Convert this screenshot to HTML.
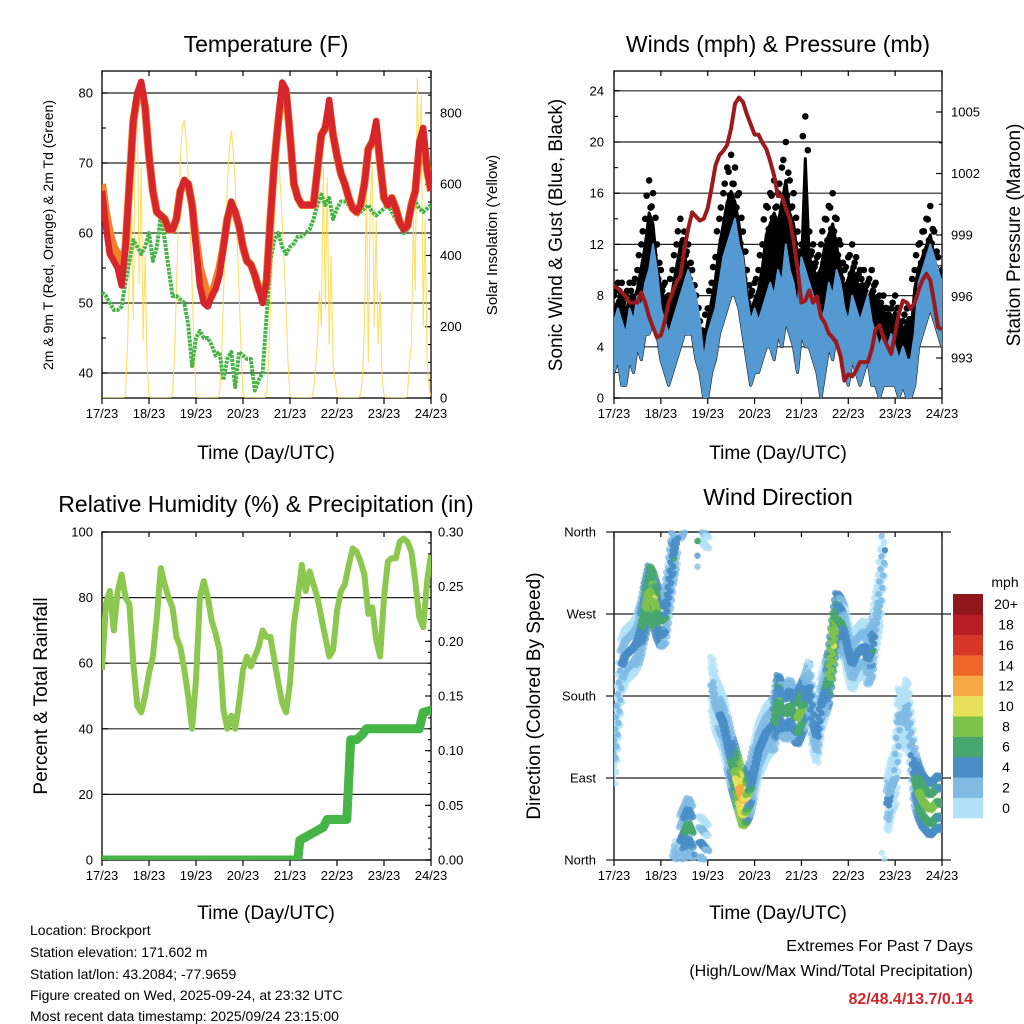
<!DOCTYPE html>
<html><head><meta charset="utf-8"><title>Weather station panels</title>
<style>
html,body{margin:0;padding:0;background:#fff;}
svg{display:block;font-family:"Liberation Sans",Arial,sans-serif;}
</style></head>
<body>
<svg id="fig" width="1024" height="1024" viewBox="0 0 1024 1024" xmlns="http://www.w3.org/2000/svg">
<defs>
<clipPath id="c1"><rect x="102" y="71" width="329" height="327"/></clipPath>
<clipPath id="c2"><rect x="614" y="71" width="328" height="327"/></clipPath>
<clipPath id="c3"><rect x="102" y="532" width="329" height="328"/></clipPath>
<clipPath id="c4"><rect x="614" y="528" width="328" height="336"/></clipPath>
</defs>
<rect x="0" y="0" width="1024" height="1024" fill="#fff"/>

<text x="266" y="52" font-size="23" text-anchor="middle">Temperature (F)</text>
<text x="778" y="52" font-size="23" text-anchor="middle">Winds (mph) &amp; Pressure (mb)</text>
<text x="266" y="512" font-size="23" text-anchor="middle">Relative Humidity (%) &amp; Precipitation (in)</text>
<text x="778" y="505" font-size="23" text-anchor="middle">Wind Direction</text>

<text x="266" y="459" font-size="19" text-anchor="middle">Time (Day/UTC)</text>
<text x="778" y="459" font-size="19" text-anchor="middle">Time (Day/UTC)</text>
<text x="266" y="919" font-size="19" text-anchor="middle">Time (Day/UTC)</text>
<text x="778" y="919" font-size="19" text-anchor="middle">Time (Day/UTC)</text>

<text transform="translate(53,235) rotate(-90)" font-size="14" text-anchor="middle">2m &amp; 9m T (Red, Orange) &amp; 2m Td (Green)</text>
<text transform="translate(497,235) rotate(-90)" font-size="15" text-anchor="middle">Solar Insolation (Yellow)</text>
<text transform="translate(562,235) rotate(-90)" font-size="19" text-anchor="middle">Sonic Wind &amp; Gust (Blue, Black)</text>
<text transform="translate(1020,235) rotate(-90)" font-size="19" text-anchor="middle">Station Pressure (Maroon)</text>
<text transform="translate(47,696) rotate(-90)" font-size="19" text-anchor="middle">Percent &amp; Total Rainfall</text>
<text transform="translate(540,696) rotate(-90)" font-size="19" text-anchor="middle">Direction (Colored By Speed)</text>

<g font-size="14">
<text x="30" y="935">Location: Brockport</text>
<text x="30" y="957">Station elevation: 171.602 m</text>
<text x="30" y="979">Station lat/lon: 43.2084; -77.9659</text>
<text x="30" y="1000">Figure created on Wed, 2025-09-24, at 23:32 UTC</text>
<text x="30" y="1021">Most recent data timestamp: 2025/09/24 23:15:00</text>
</g>
<text x="973" y="951" font-size="16" text-anchor="end">Extremes For Past 7 Days</text>
<text x="973" y="976" font-size="16" text-anchor="end">(High/Low/Max Wind/Total Precipitation)</text>
<text x="973" y="1004" font-size="16" font-weight="bold" fill="#d0262b" text-anchor="end">82/48.4/13.7/0.14</text>

<g id="marks"></g>
</svg>

<script>
const dayLabels = ["17/23","18/23","19/23","20/23","21/23","22/23","23/23","24/23"];
const tempRed = [66,61,57,56,55,52.5,58,67, 76,80,81.6,78,71,66,63,62.5, 62,60.5,60.5,62,66,67.6,67,64, 58,52.5,50,49.5,51,52,54,58, 62,64.5,63,61,58,56,55.5,54, 52,50,53,62,70,76,81.5,80.5, 74,67,65,64,64,64,64,69, 74,75,79,74,71,68.5,67,65, 63.5,63,64,67,72,73,76,70, 65,64,65,63.5,61.5,60.5,61,64, 66,73,75,69,66];
const tempOrange = [67,63,60,58,57,55,58,67, 76,79.5,81,78,71,66,63,62.5, 62,60.5,60.5,62,66,67,67,64, 59,55,53,51,51,53,55,58, 62,64,63,61,58,56,55.5,54, 52,51,53,62,70,76,80.5,80, 74,67,65,64,64,64,64,69, 74,75,78,74,71,68.5,67,65, 63.5,63,64,67,72,73,75,70, 65,64,65,63.5,61.5,61,61,64, 66,72,74,69,66];
const dewPoint = [51.5,51,50,49,49,49.5,53,56, 59,58,57,58,60,56,58,62.5, 59,55,51,51,50.5,50,47,41, 45,46,45,45,44,42.5,43,39, 42,43,38,43,42.5,42,42,37.5, 39,40,48,56,59,60,58,57, 58,58.5,59.5,59.5,60,60.5,62,64, 65.5,64,65,62,63.5,64.5,64.5,64, 63.5,62.5,63,63.5,64,63,62.5,63, 63.5,64,63,62,61,60,60.5,63, 64.5,63.5,63,63.5,64];
const solar = [0,0,0,0,0,0,0,0,0,0,0,0,
 10,150,350,520,220,750,810,320,650,160,400,100,10, 0,0,0,0,0,0,0,0,0,0,0,
 10,120,300,500,660,760,780,720,620,480,320,150,10, 0,0,0,0,0,0,0,0,0,0,0,
 10,100,280,450,600,700,750,700,600,450,300,140,10, 0,0,0,0,0,0,0,0,0,0,0,
 10,100,250,400,500,650,700,600,500,380,250,100,10, 0,0,0,0,0,0,0,0,0,0,0,
 20,80,150,300,200,650,250,620,150,400,100,50,10, 0,0,0,0,0,0,0,0,0,0,0,
 10,60,200,600,100,550,650,200,500,150,300,60,10, 0,0,0,0,0,0,0,0,0,0,0,
 10,100,150,500,300,900,600,850,200,500,100,30,5];
const windHi = [6,7,6,5,7,6,8,7, 9,10,12,10,7,6,5,6, 7,8,9,10,9,8,6,3, 5,6,7,9,11,12,13,14, 12,11,8,6,7,6,7,8, 9,8,10,9,12,10,9,7, 11,10,9,8,7,6,7,9, 8,10,9,7,6,8,7,6, 7,8,6,5,4,5,4,5, 4,3,4,3,3,5,9,10, 11,12,11,10,9];
const windLo = [2,3,1,1,3,2,4,3, 5,5,6,5,3,2,1,2, 3,4,5,5,5,3,2,0, 0,2,3,5,6,7,8,8, 7,5,3,1,2,2,3,4, 4,3,5,4,6,5,4,2, 5,4,4,3,2,0,2,4, 3,5,4,2,1,3,2,1, 2,3,1,1,0,1,1,1, 1,0,1,0,0,1,4,5, 6,7,6,5,4];
const gustHi = [8,9,9,8,9,9,10,12, 14,17,16,12,10,9,8,10, 12,14,13,12,10,8,6,5, 7,9,11,14,16,18,19,18, 16,13,10,8,9,10,12,15, 16,17,16,18,20,17,16,13, 12,22,13,12,11,12,14,15, 16,14,12,10,11,12,11,10, 10,9,10,9,8,8,7,7, 8,6,6,7,6,10,12,13, 14,15,13,11,10];
const pressure = [996.5,996.4,996.2,996.0,995.7,995.7,995.7,996.2, 995.7,995.0,994.5,994.0,994.1,994.8,995.7,996.2, 996.7,997.0,998.3,999.3,1000.1,999.9,999.7,999.8, 1000.3,1001.3,1002.4,1002.9,1003.1,1003.4,1004.2,1005.4, 1005.7,1005.5,1004.9,1004.4,1003.9,1003.9,1003.5,1003.2, 1002.6,1001.9,1000.9,1000.9,1000.3,999.8,998.7,997.4, 995.7,995.8,996.3,995.7,996.0,995.0,994.7,994.2, 994.0,993.7,993.1,991.9,992.2,992.1,992.4,992.8, 992.8,992.8,993.4,994.4,994.6,994.0,993.6,993.2, 994.2,995.2,995.8,995.7,995.4,995.7,996.3,996.8, 997.1,996.8,995.7,994.5,994.4];
const relHum = [58,78,82,70,82,87,80,78, 60,47,45,50,57,62,74,89, 84,80,77,68,65,58,50,40, 55,80,85,80,73,69,64,46, 40,44,40,48,58,62,59,62, 65,70,68,68,61,54,48,45, 54,72,80,90,82,88,84,80, 74,68,62,64,76,82,84,90, 95,94,91,87,75,77,67,62, 80,91,92,92,97,98,97,94, 85,74,71,85,93];
const precipHours = [0,100,101,105,107,113,115,125,127,130,133,135,162,164,168];
const precipTotal = [0,0,0.018,0.022,0.024,0.03,0.037,0.037,0.11,0.11,0.115,0.12,0.12,0.135,0.137];
const windDir = [112,163,214,225,229,233,240,255, 276,295,287,273,262,266,295,331, 353,20,30,40,30,350,20,15, 10,195,170,160,150,130,110,95, 80,65,70,80,100,120,130,140, 145,150,175,165,160,170,160,155, 165,175,190,150,135,170,185,200, 235,265,260,250,230,215,225,230, 235,220,230,260,285,340,60,80, 90,160,150,170,130,90,75,65, 60,55,60,65,60];
const dirSpeed = [3,3,4,4,5,5,5,6, 8,9,10,8,7,6,5,6, 5,5,6,6,7,6,5,5, 3,2,3,4,4,5,6,9, 12,13,10,6,5,4,4,4, 4,6,8,7,7,7,6,8, 9,6,5,4,5,4,5,8, 10,8,7,5,4,4,4,4, 4,5,6,3,2,4,5,3, 3,2,3,3,3,6,8,9, 9,8,9,8,7];
const tempTicks = [40,50,60,70,80];
const solarTicks = [0,200,400,600,800];
const windTicks = [0,4,8,12,16,20,24];
const pressTicks = [993,996,999,1002,1005];
const rhTicks = [0,20,40,60,80,100];
const precipTicks = ["0.00","0.05","0.10","0.15","0.20","0.25","0.30"];
const dirTicks = ["North","East","South","West","North"];
const speedBins = ["0","2","4","6","8","10","12","14","16","18","20+"];
const speedColors = ["#b3e1f7","#80bbe4","#4a8dc6","#47a76f","#7dc24b","#e7e05b","#f6aa46","#ef662a","#d9362a","#b81d24","#8f161b"];

const NS = "http://www.w3.org/2000/svg";
const root = document.getElementById("marks");
const P1 = {x0:102,x1:431,y0:71,y1:398};
const P2 = {x0:614,x1:942,y0:71,y1:398};
const P3 = {x0:102,x1:431,y0:532,y1:860};
const P4 = {x0:614,x1:942,y0:532,y1:860};
function xs(P,h){ return P.x0 + h/168*(P.x1-P.x0); }
function yTemp(v){ return 93 + (80-v)*7; }
function ySolar(v){ return 398 - v*0.3563; }
function yWind(v){ return 398 - v*12.8; }
function yPress(v){ return 358 - (v-993)*20.5; }
function yRH(v){ return 860 - v*3.28; }
function yPrecip(v){ return 860 - v/0.3*328; }
function yDir(v){ return 860 - v/360*328; }
function mk(tag, attrs, parent){
  const e = document.createElementNS(NS, tag);
  for (const k in attrs) e.setAttribute(k, attrs[k]);
  (parent||root).appendChild(e);
  return e;
}
function pts(P, arr, yf, step){ return arr.map((v,i)=>xs(P,i*step).toFixed(1)+","+yf(v).toFixed(1)).join(" "); }
function speedColor(s){ let b = Math.floor(s/2); if (b>10) b=10; if(b<0) b=0; return speedColors[b]; }

function frame(P, name){
  const g = mk("g", {});
  
  
  const r = mk("rect", {x:P.x0, y:P.y0, width:P.x1-P.x0, height:P.y1-P.y0, fill:"none", stroke:"#000", "stroke-width":1.3}, g);
  
  
  for (let d=0; d<=7; d++){
    const x = xs(P, d*24);
    const tb = mk("line", {x1:x, x2:x, y1:P.y1, y2:P.y1+6, stroke:"#000", "stroke-width":1.2}, g);
    
    
    const tt = mk("line", {x1:x, x2:x, y1:P.y0, y2:P.y0+5, stroke:"#000", "stroke-width":1.2}, g);
    
    
    const t = mk("text", {x:x, y:P.y1+20, "font-size":13, "text-anchor":"middle"}, g);
    t.textContent = dayLabels[d];
    
    
  }
  return g;
}
function grid(g, P, y, x0, x1){
  const l = mk("line", {x1:x0===undefined?P.x0:x0, x2:x1===undefined?P.x1:x1, y1:y, y2:y, stroke:"#222", "stroke-width":1.2}, g);
  
  
}
function ylabel(g, x, y, txt, anchor){
  const t = mk("text", {x:x, y:y+4.5, "font-size":13, "text-anchor":anchor}, g);
  t.textContent = txt;
  
  
}
function ytick(g, x, y, len){
  const l = mk("line", {x1:x, x2:x+len, y1:y, y2:y, stroke:"#000", "stroke-width":1.1}, g);
  
  
}

// Panel 1
const g1 = frame(P1, 'temperature');
tempTicks.forEach(v=>{ grid(g1,P1,yTemp(v)); ylabel(g1,93,yTemp(v),String(v),"end"); ytick(g1,P1.x0,yTemp(v),6); });
for (let v=40; v<=80; v+=5){ ytick(g1,P1.x0,yTemp(v),4); }
solarTicks.forEach(v=>{ ylabel(g1,440,ySolar(v),String(v),"start"); ytick(g1,P1.x1,ySolar(v),-6); });
for (let v=0; v<=900; v+=50){ ytick(g1,P1.x1,ySolar(v),-3); }
const c1 = mk("g", {"clip-path":"url(#c1)"});


const sol = mk("polyline", {points:pts(P1, solar, ySolar, 1), fill:"none", stroke:"#fbd94c", "stroke-width":1.1, opacity:0.85}, c1);


const dew = mk("polyline", {points:pts(P1, dewPoint, yTemp, 2), fill:"none", stroke:"#47b446", "stroke-width":4, "stroke-dasharray":"3 1", "stroke-linejoin":"round"}, c1);


const to = mk("polyline", {points:pts(P1, tempOrange, yTemp, 2), fill:"none", stroke:"#f47f2a", "stroke-width":8, "stroke-linejoin":"round"}, c1);


const tr = mk("polyline", {points:pts(P1, tempRed, yTemp, 2), fill:"none", stroke:"#d7262b", "stroke-width":6.5, "stroke-linejoin":"round"}, c1);



// Panel 2
const g2 = frame(P2, 'winds');
windTicks.forEach(v=>{ grid(g2,P2,yWind(v)); ylabel(g2,604,yWind(v),String(v),"end"); ytick(g2,P2.x0,yWind(v),6); });
for (let v=0; v<=24; v+=2){ ytick(g2,P2.x0,yWind(v),4); }
pressTicks.forEach(v=>{ ylabel(g2,951,yPress(v),String(v),"start"); ytick(g2,P2.x1,yPress(v),-6); });
for (let v=991.5; v<=1006; v+=1.5){ ytick(g2,P2.x1,yPress(v),-3); }
const c2 = mk("g", {"clip-path":"url(#c2)"});


function band(P, hi, lo, yf, step){
  const a = hi.map((v,i)=>xs(P,i*step).toFixed(1)+","+yf(v).toFixed(1));
  const b = lo.map((v,i)=>xs(P,i*step).toFixed(1)+","+yf(v).toFixed(1)).reverse();
  return a.concat(b).join(" ");
}
const gb = mk("polygon", {points:band(P2, gustHi.map(v=>v*0.85), windLo, yWind, 2), fill:"#000", stroke:"#000", "stroke-width":3, "stroke-linejoin":"round"}, c2);


gustHi.forEach((v,i)=>{
  [1, 0.93, 0.88].forEach(f=>{
    const d = mk("circle", {cx:xs(P2,i*2) + (f<1?(f>0.9?-2.5:2.5):0), cy:yWind(v*f), r:3.3, fill:"#000"}, c2);
    
    
  });
});
const wb = mk("polygon", {points:band(P2, windHi, windLo, yWind, 2), fill:"#5499d2", stroke:"#5499d2", "stroke-width":2, "stroke-linejoin":"round"}, c2);


const pl = mk("polyline", {points:pts(P2, pressure, yPress, 2), fill:"none", stroke:"#9b1a1d", "stroke-width":4, "stroke-linejoin":"round"}, c2);



// Panel 3
const g3 = frame(P3, 'humidity');
rhTicks.forEach(v=>{ grid(g3,P3,yRH(v)); ylabel(g3,93,yRH(v),String(v),"end"); ytick(g3,P3.x0,yRH(v),6); });
precipTicks.forEach(v=>{ ylabel(g3,438,yPrecip(parseFloat(v)),v,"start"); ytick(g3,P3.x1,yPrecip(parseFloat(v)),-6); });
for (let v=0; v<=0.3001; v+=0.01){ ytick(g3,P3.x1,yPrecip(v),-3); }
const c3 = mk("g", {"clip-path":"url(#c3)"});


const rh = mk("polyline", {points:pts(P3, relHum, yRH, 2), fill:"none", stroke:"#8cc850", "stroke-width":6, "stroke-linejoin":"round"}, c3);


const pp = precipHours.map((h,i)=>xs(P3,h).toFixed(1)+","+yPrecip(precipTotal[i]).toFixed(1)).join(" ");
const pr = mk("polyline", {points:pp, fill:"none", stroke:"#47b446", "stroke-width":9, "stroke-linejoin":"round", "stroke-linecap":"round"}, c3);



// Panel 4
const g4 = frame(P4, 'direction');
dirTicks.forEach((lab,i)=>{ const y = yDir(i*90); grid(g4,P4,y,606,951); ylabel(g4,596,y,lab,"end"); });
const c4 = mk("g", {"clip-path":"url(#c4)"});


const offs = [-28, 28, -16, 16, 0];
offs.forEach((off,oi)=>{
  for (let i=0; i<windDir.length-1; i++){
    const d0 = windDir[i], d1 = windDir[i+1];
    const n = Math.abs(d1-d0) > 180 ? 1 : 8;
    for (let k=0; k<n; k++){
      const f = k/8;
      const h = (i + f)*2;
      const d = d0 + (d1-d0)*f + off;
      const s = dirSpeed[i] + (dirSpeed[i+1]-dirSpeed[i])*f - Math.abs(off)/9;
      const c = mk("circle", {cx:xs(P4,h) + ((k%2)?1.5:-1.5)*(oi%2?1:-1), cy:yDir(((d%360)+360)%360), r:3.2, fill:speedColor(s), opacity: off===0?0.95:0.75}, c4);
      
      
    }
  }
});

const cb = mk("g", {});


const cbTop = 594, cbH = 224/11;
speedBins.forEach((lab,i)=>{
  const y = cbTop + (10-i)*cbH;
  const r = mk("rect", {x:953, y:y, width:30, height:cbH+0.3, fill:speedColors[i]}, cb);
  
  
  const t = mk("text", {x:1006, y:y+cbH/2+5, "font-size":14, "text-anchor":"middle"}, cb);
  t.textContent = lab;
  
  
});
const mph = mk("text", {x:1005, y:587, "font-size":14, "text-anchor":"middle"}, cb);
mph.textContent = "mph";


</script>
</body></html>
